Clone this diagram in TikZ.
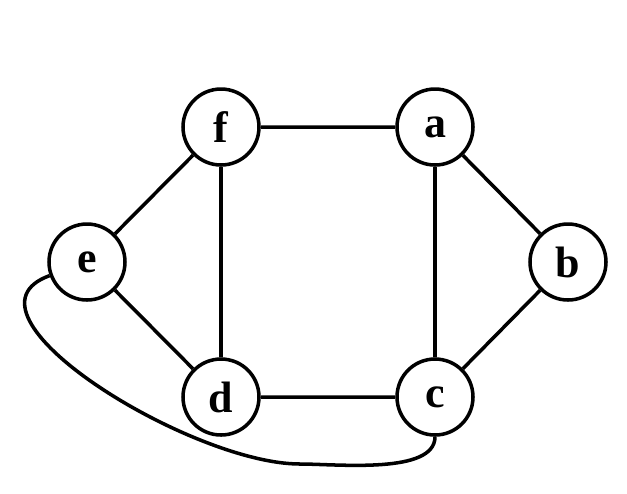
\documentclass[tikz,border=0pt]{standalone}
\usepackage{fontspec}
\setmainfont{Liberation Serif}
\begin{document}
\begin{tikzpicture}[x=0.01cm,y=-0.01cm,
  vtx/.style={circle,draw,line width=1pt,minimum size=76*0.01cm,inner sep=0pt,font=\fontsize{12.5}{13}\selectfont\bfseries},
  edge/.style={line width=1pt}]
\useasboundingbox (0,0) rectangle (627,493);
\node[vtx] (f) at (221,127) {f};
\node[vtx] (a) at (435,127) {a};
\node[vtx] (e) at (87,262) {e};
\node[vtx] (b) at (568,262) {b};
\node[vtx] (d) at (221,397) {d};
\node[vtx] (c) at (435,397) {c};
\draw[edge] (f)--(a) (a)--(b) (b)--(c) (c)--(d) (d)--(e) (e)--(f) (f)--(d) (a)--(c);
\coordinate (m) at (300,464);
\draw[edge] (e.200) to[out=200,in=180,looseness=0.9] (m) to[out=0,in=270,looseness=0.7] (c.south);
\end{tikzpicture}
\end{document}
